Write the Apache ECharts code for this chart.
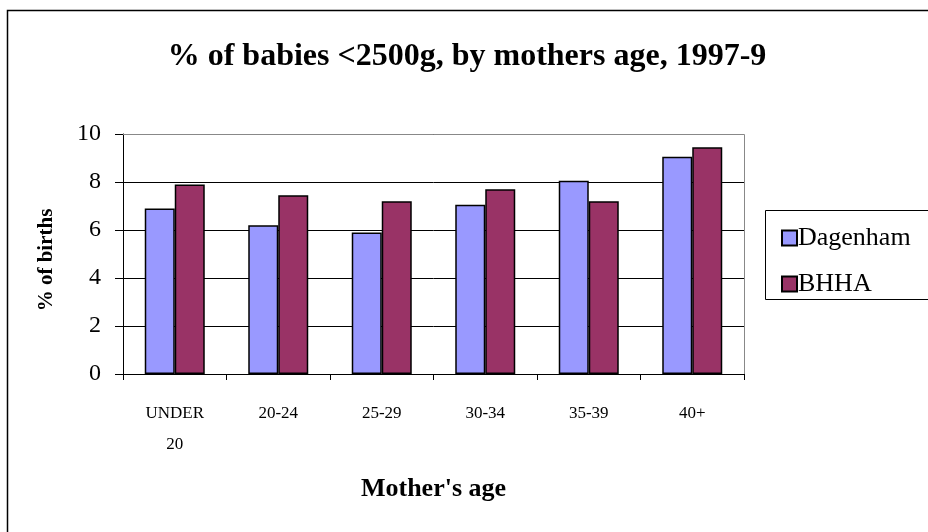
<!DOCTYPE html>
<html>
<head>
<meta charset="utf-8">
<script src="https://cdn.jsdelivr.net/npm/echarts@6/dist/echarts.min.js"></script>
<style>
  html, body { margin: 0; padding: 0; background: #fff; }
  #main { width: 928px; height: 532px; }
</style>
</head>
<body>
<div id="main"></div>
<script>
// data
var ageGroups = ['UNDER\n20', '20-24', '25-29', '30-34', '35-39', '40+'];
var dagenham = [6.9, 6.2, 5.9, 7.05, 8.05, 9.05];
var bhha = [7.9, 7.45, 7.2, 7.7, 7.2, 9.45];
var yTicks = [0, 2, 4, 6, 8, 10];

var serif = '"Liberation Serif", "DejaVu Serif", serif';
var chart = echarts.init(document.getElementById('main'));

var option = {
  backgroundColor: '#ffffff',
  animation: false,
  textStyle: { fontFamily: serif, color: '#000' },
  title: {
    text: '% of babies <2500g, by mothers age, 1997-9',
    left: 462,
    textAlign: 'center',
    top: 36,
    textStyle: { fontFamily: serif, fontSize: 32, fontWeight: 'bold', color: '#000' }
  },
  legend: {
    orient: 'vertical',
    left: 776,
    top: 220,
    icon: 'rect',
    itemWidth: 15,
    itemHeight: 15,
    itemGap: 20,
    textStyle: { fontFamily: serif, fontSize: 26, color: '#000', padding: [0, 0, 0, -4] },
    data: ['Dagenham', 'BHHA']
  },
  grid: { left: 123, top: 134, width: 621, height: 240, show: false },
  xAxis: {
    type: 'category',
    data: ageGroups,
    name: "Mother's age",
    nameLocation: 'middle',
    nameGap: 102,
    nameTextStyle: { fontFamily: serif, fontSize: 26, fontWeight: 'bold', color: '#000' },
    axisLine: { lineStyle: { color: '#000', width: 1 } },
    axisTick: { show: true, length: 6, lineStyle: { color: '#000' }, alignWithLabel: false },
    axisLabel: { fontFamily: serif, fontSize: 17, color: '#000', margin: 24, lineHeight: 31 }
  },
  yAxis: {
    type: 'value',
    min: yTicks[0],
    max: yTicks[yTicks.length - 1],
    interval: 2,
    name: '% of births',
    nameLocation: 'middle',
    nameGap: 66,
    nameTextStyle: { fontFamily: serif, fontSize: 21, fontWeight: 'bold', color: '#000', padding: [0, 12, 0, 0] },
    axisLine: { show: true, lineStyle: { color: '#000' } },
    axisTick: { show: true, length: 8, lineStyle: { color: '#000' } },
    axisLabel: { fontFamily: serif, fontSize: 24, color: '#000', margin: 22 },
    splitLine: { show: true, lineStyle: { color: '#000', width: 1 } }
  },
  graphic: [
    { type: 'polyline', shape: { points: [[7.5, 540], [7.5, 10.5], [940, 10.5]] }, style: { fill: 'none', stroke: '#000', lineWidth: 1.5 }, z: 100 },
    { type: 'polyline', shape: { points: [[123, 134.5], [744.5, 134.5], [744.5, 374]] }, style: { fill: 'none', stroke: '#888', lineWidth: 1 }, z: 100 },
    { type: 'rect', shape: { x: 765.5, y: 210.5, width: 200, height: 89 }, style: { fill: 'none', stroke: '#000', lineWidth: 1 }, z: 100 }
  ],
  series: [
    {
      name: 'Dagenham',
      type: 'bar',
      data: dagenham,
      barWidth: 30,
      barGap: '0%',
      itemStyle: { color: '#9999ff', borderColor: '#000', borderWidth: 1.5 }
    },
    {
      name: 'BHHA',
      type: 'bar',
      data: bhha,
      barWidth: 30,
      itemStyle: { color: '#993366', borderColor: '#000', borderWidth: 1.5 }
    }
  ]
};

chart.setOption(option);
</script>
</body>
</html>
